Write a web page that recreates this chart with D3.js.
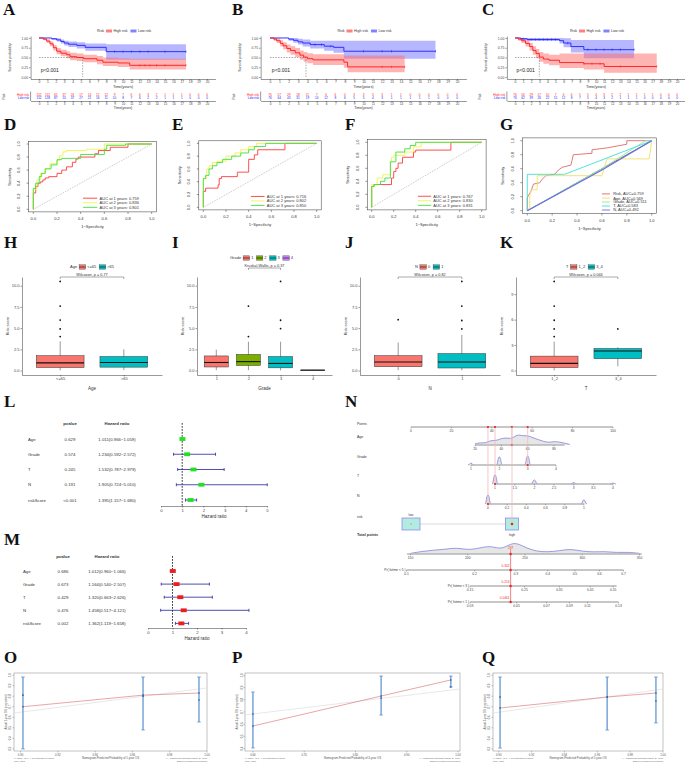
<!DOCTYPE html>
<html>
<head>
<meta charset="utf-8">
<script src="https://cdn.jsdelivr.net/npm/d3@7"></script>
<style>
  body { margin: 0; background: #fff; }
  svg { display: block; }
  text { font-family: "Liberation Sans", "DejaVu Sans", Arial, sans-serif; }
</style>
</head>
<body>
<script>
// ---------- data: survival curves [time, surv, lower, upper] ----------
const kmYears = [0,1,2,3,4,5,6,7,8,9,10,11,12,13,14,15,16,17,18,19,20];

const kmA_high = [[0,1,1,1],[0.5,0.97,0.94,1],[0.9,0.92,0.87,0.97],[1.3,0.85,0.79,0.91],[1.7,0.75,0.68,0.82],[2.1,0.66,0.58,0.74],[2.6,0.61,0.53,0.70],[3.3,0.57,0.48,0.66],[3.7,0.52,0.43,0.62],[4.5,0.50,0.41,0.60],[5.3,0.47,0.38,0.57],[6.9,0.43,0.33,0.54],[7.6,0.38,0.28,0.50],[9.4,0.36,0.26,0.48],[10.8,0.30,0.19,0.47],[17.5,0.30,0.19,0.47]];
const kmA_low = [[0,1,1,1],[1.5,0.98,0.95,1],[2.1,0.95,0.91,0.99],[2.6,0.91,0.86,0.96],[3.0,0.87,0.81,0.93],[3.5,0.84,0.77,0.91],[4.5,0.81,0.73,0.89],[5.5,0.76,0.67,0.86],[8.0,0.65,0.44,0.84],[17.5,0.65,0.44,0.84]];
const kmB_high = [[0,1,1,1],[0.4,0.97,0.93,1],[0.7,0.93,0.87,0.99],[1.1,0.86,0.78,0.94],[1.4,0.80,0.71,0.89],[1.8,0.73,0.63,0.83],[2.2,0.68,0.57,0.79],[2.7,0.62,0.51,0.74],[3.2,0.56,0.44,0.68],[3.6,0.51,0.39,0.64],[4.0,0.47,0.35,0.61],[4.6,0.44,0.31,0.58],[7.9,0.38,0.24,0.55],[8.3,0.26,0.12,0.55],[14.4,0.26,0.12,0.55]];
const kmB_low = [[0,1,1,1],[2.0,0.97,0.93,1],[2.5,0.94,0.88,1],[3.0,0.90,0.83,0.98],[3.5,0.87,0.78,0.96],[4.3,0.83,0.73,0.93],[5.8,0.79,0.67,0.93],[6.8,0.76,0.62,0.93],[7.9,0.66,0.47,0.93],[17.7,0.66,0.47,0.93]];
const kmC_high = [[0,1,1,1],[0.4,0.97,0.93,1],[0.8,0.93,0.87,0.99],[1.3,0.86,0.78,0.94],[1.8,0.78,0.68,0.87],[2.2,0.68,0.57,0.79],[2.6,0.60,0.48,0.72],[3.0,0.51,0.39,0.64],[3.5,0.46,0.34,0.60],[4.2,0.43,0.30,0.57],[5.5,0.37,0.23,0.60],[8.5,0.34,0.19,0.60],[11.0,0.27,0.11,0.60],[17.5,0.27,0.11,0.60]];
const kmC_low = [[0,1,1,1],[0.7,0.98,0.95,1],[1.5,0.96,0.92,1],[5.5,0.93,0.86,1],[6.0,0.87,0.76,0.99],[6.9,0.78,0.63,0.95],[8.5,0.70,0.48,0.95],[14.7,0.70,0.48,0.95]];

// censored times
const kmA_highCens = [12, 12.6, 13.2, 14, 15, 17.5];
const kmA_lowCens = [9, 10, 11, 12, 13, 15, 17.5];
const kmB_highCens = [12, 13, 14.4];
const kmB_lowCens = [4.8, 5.5, 6.5, 10, 12, 13, 17.7];
const kmC_highCens = [8.5, 9.5, 10.5, 13, 17.5];
const kmC_lowCens = [1, 2, 2.5, 3, 3.5, 4, 4.5, 5, 6.5, 9, 10, 11, 12, 13, 14.7];

// numbers at risk
const riskA_high = [152,112,65,37,26,17,14,12,12,9,7,6,6,3,2,1,1,1,0,0,0];
const riskA_low = [152,128,87,55,37,27,21,16,11,10,8,7,6,2,2,1,1,1,0,0,0];
const riskB_high = [76,57,29,18,11,7,6,6,4,3,3,3,3,1,1,0,0,0,0,0,0];
const riskB_low = [76,64,43,31,19,14,12,8,6,5,5,4,3,1,1,1,1,1,0,0,0];
const riskC_high = [76,56,29,17,10,7,6,6,5,5,4,3,2,2,1,1,1,1,0,0,0];
const riskC_low = [76,62,39,26,22,15,12,8,7,5,4,3,2,1,1,1,0,0,0,0,0];

// ---------- data: ROC curves [1-specificity, sensitivity] ----------
const rocD_1 = [[0,0],[0,0.2],[0.02,0.25],[0.04,0.35],[0.06,0.4],[0.08,0.42],[0.1,0.45],[0.13,0.48],[0.2,0.5],[0.24,0.55],[0.28,0.6],[0.33,0.65],[0.36,0.72],[0.38,0.77],[0.4,0.8],[0.52,0.8],[0.55,0.85],[0.65,0.9],[0.8,0.95],[0.8,1],[1,1]];
const rocD_2 = [[0,0],[0,0.15],[0.03,0.3],[0.06,0.45],[0.1,0.55],[0.14,0.62],[0.2,0.7],[0.22,0.75],[0.25,0.82],[0.28,0.88],[0.45,0.9],[0.6,0.92],[0.78,1],[1,1]];
const rocD_3 = [[0,0],[0,0.2],[0.02,0.32],[0.05,0.4],[0.07,0.5],[0.1,0.55],[0.15,0.62],[0.2,0.68],[0.24,0.76],[0.4,0.78],[0.6,0.84],[0.62,0.92],[0.78,0.98],[1,1]];
const rocE_1 = [[0,0],[0,0.15],[0.02,0.25],[0.13,0.3],[0.14,0.35],[0.16,0.45],[0.3,0.48],[0.3,0.53],[0.4,0.55],[0.4,0.72],[0.45,0.75],[0.48,0.82],[0.52,0.9],[0.72,0.9],[0.72,1],[1,1]];
const rocE_2 = [[0,0],[0,0.3],[0.03,0.45],[0.05,0.6],[0.08,0.65],[0.12,0.7],[0.2,0.72],[0.28,0.8],[0.33,0.85],[0.4,0.9],[0.47,0.95],[0.68,1],[1,1]];
const rocE_3 = [[0,0],[0,0.4],[0.02,0.45],[0.05,0.5],[0.08,0.6],[0.12,0.65],[0.17,0.7],[0.25,0.75],[0.33,0.8],[0.4,0.85],[0.45,0.9],[0.55,0.95],[0.58,1],[1,1]];
const rocF_1 = [[0,0],[0,0.2],[0.02,0.32],[0.18,0.35],[0.2,0.45],[0.22,0.55],[0.24,0.6],[0.28,0.68],[0.38,0.77],[0.4,0.85],[0.72,0.88],[0.72,1],[1,1]];
const rocF_2 = [[0,0],[0,0.25],[0.05,0.35],[0.1,0.45],[0.17,0.5],[0.18,0.7],[0.2,0.77],[0.3,0.8],[0.38,0.85],[0.45,0.93],[0.62,1],[1,1]];
const rocF_3 = [[0,0],[0,0.2],[0.02,0.32],[0.08,0.35],[0.12,0.4],[0.17,0.45],[0.17,0.65],[0.22,0.7],[0.3,0.85],[0.35,0.9],[0.4,0.95],[0.6,1],[1,1]];
const rocAucD = ["0.759","0.836","0.801"];
const rocAucE = ["0.716","0.802","0.850"];
const rocAucF = ["0.767","0.830","0.831"];

const rocG_risk = [[0,0],[0,0.18],[0.01,0.22],[0.03,0.28],[0.05,0.38],[0.1,0.4],[0.12,0.45],[0.15,0.5],[0.22,0.52],[0.25,0.58],[0.28,0.62],[0.35,0.65],[0.36,0.72],[0.37,0.8],[0.52,0.82],[0.52,0.87],[0.65,0.9],[0.8,0.95],[0.8,1],[1,1]];
const rocG_age = [[0,0],[0.02,0.05],[0.02,0.2],[0.03,0.3],[0.08,0.3],[0.08,0.5],[0.6,0.5],[0.64,0.74],[0.98,0.74],[1,1]];
const rocG_grade = [[0,0],[0.6,0.6],[0.95,1],[1,1]];
const rocG_t = [[0,0],[0,0.52],[0.3,0.52],[1,1]];
const rocG_n = [[0,0],[0.6,0.58],[1,1]];
const rocGNames = ["Risk","Age","Grade","T","N"];
const rocGAuc = ["0.759","0.569","0.511","0.583","0.492"];

// ---------- data: box plots [lower whisker, Q1, median, Q3, upper whisker] ----------
const boxH_cats = ["<=65", ">65"];
const boxH_stats = [[0.02,0.35,0.9,1.75,3.45],[0.05,0.4,0.95,1.65,2.5]];
const boxH_out = [[4.0,4.9,5.95,7.6,10.5],[]];
const boxI_cats = ["1","2","3","4"];
const boxI_stats = [[0.05,0.42,0.95,1.72,2.46],[0.05,0.6,1.05,1.9,3.4],[0.02,0.32,0.84,1.65,3.4],[0.05,0.05,0.05,0.05,0.05]];
const boxI_out = [[],[4.0,7.6],[4.95,5.93,10.5],[]];
const boxJ_cats = ["0","1"];
const boxJ_stats = [[0.05,0.45,1.0,1.75,3.3],[0.02,0.3,1.0,2.0,4.2]];
const boxJ_out = [[6.0],[4.9,5.9,7.6,10.5]];
const boxK_cats = ["1_2","3_4"];
const boxK_stats = [[0.02,0.35,0.85,1.7,3.4],[0.5,1.4,2.3,2.6,2.75]];
const boxK_out = [[4.0,4.9,5.93,7.6,10.5],[4.9]];

// ---------- data: Cox regression ----------
const coxVars = ["Age","Grade","T","N","riskScore"];
const uniP = ["0.629","0.574","0.245","0.191","<0.001"];
const uniHR = [1.011,1.234,1.532,1.905,1.395];
const uniLo = [0.966,0.592,0.787,0.724,1.157];
const uniHi = [1.059,2.572,2.979,5.010,1.680];
const multiP = ["0.686","0.673","0.429","0.476","0.002"];
const multiHR = [1.012,1.164,1.320,1.458,1.362];
const multiLo = [0.960,0.540,0.663,0.517,1.119];
const multiHi = [1.066,2.507,2.626,4.121,1.658];

// ---------- data: nomogram ----------
const nomoAgeTicks = [20,40,60,80];
const nomoAgeGrid = [20,24,28,32,36,40,44,48,52,56,60,64,68,72,76,80,84,88,92];
const nomoAgeDensity = [0.1,0.2,0.15,0.4,0.35,0.55,0.6,0.5,0.9,0.75,0.8,0.6,0.45,0.3,0.2,0.3,0.25,0.15,0.05];
const nomoGradeTicks = [1,2,3,4];
const nomoGradePeaks = [[1,0.2],[2,0.9],[3,1.0]];
const nomoTTicks = [1,1.5,2,2.5,3,3.5,4];
const nomoTPeaks = [[1,1.0],[2,0.45],[3,0.15],[4,0.1]];
const nomoNTicks = [0,0.2,0.4,0.6,0.8,1];
const nomoNPeaks = [[0,1.0],[1,0.45]];
const nomoTotalTicks = [150,200,250,300,350];
const nomoTotalGrid = [150,160,170,180,190,200,210,220,230,240,250,260,270,280,290,300,310,320,330,340,350];
const nomoTotalDensity = [0.05,0.2,0.3,0.35,0.5,0.3,0.45,0.65,0.3,1.0,0.5,0.2,0.15,0.25,0.4,0.2,0.15,0.2,0.1,0.15,0.05];
const nomoPr5 = [["0.1",146.5],["0.2",206],["0.3",242],["0.4",270],["0.5",293.6],["0.6",315],["0.7",336]];
const nomoPr3 = [["0.15",202],["0.25",249.6],["0.35",280],["0.45",307],["0.55",327]];
const nomoPr1 = [["0.03",202],["0.05",242.6],["0.07",268.8],["0.09",288.9],["0.11",304.6],["0.13",331.7]];
const nomoPrSel = ["0.302","0.214","0.0461"];
const nomoSel = {age: 48, grade: 3, t: 1, n: 0};

// ---------- data: calibration [predicted, observed, corrected, lower, upper] ----------
const calO = [[0.9013,0.70,0.81,0.30,0.982],[0.9657,0.81,0.80,0.48,0.982],[0.9957,0.83,0.764,0.555,0.982]];
const calO_fit = [[0.8965,0.64],[1.0,0.878]];
const calP = [[0.6,0.585,0.684,0.405,0.864],[0.85,0.831,0.815,0.675,0.995],[0.986,0.963,0.905,0.905,0.995]];
const calP_fit = [[0.5845,0.676],[1.0039,0.889]];
const calQ = [[0.9008,0.688,0.792,0.308,0.982],[0.966,0.792,0.792,0.479,0.982],[0.9957,0.83,0.754,0.546,0.982]];
const calQ_fit = [[0.8965,0.64],[1.0,0.868]];
const calO_xTicks = [0.90,0.92,0.94,0.96,0.98,1.00];
const calO_yTicks = [0.3,0.4,0.5,0.6,0.7,0.8,0.9,1.0];
const calP_xTicks = [0.6,0.7,0.8,0.9,1.0];
const calP_yTicks = [0.4,0.5,0.6,0.7,0.8,0.9,1.0];

// ---------- drawing ----------
const FONT = "Liberation Sans, DejaVu Sans, Arial, sans-serif";
const svg = d3.select("body").append("svg")
	.attr("width", 685).attr("height", 763)
	.attr("font-family", FONT);
svg.append("rect").attr("width", 685).attr("height", 763).attr("fill", "#fff");

function txt(g, x, y, s, opt = {}) {
	const t = g.append("text").attr("x", x).attr("y", y).text(s)
		.attr("font-family", FONT)
		.attr("font-size", opt.size || 4)
		.attr("fill", opt.color || "#333")
		.attr("text-anchor", opt.anchor || "start");
	if (opt.rotate) t.attr("transform", `rotate(${opt.rotate},${x},${y})`);
	if (opt.weight) t.attr("font-weight", opt.weight);
	return t;
}

function styleAxis(sel, size) {
	sel.attr("font-size", size).attr("font-family", FONT);
	sel.selectAll("text").attr("fill", "#444");
	sel.selectAll("line,path").attr("stroke", "#333").attr("stroke-width", 0.5);
}

function letter(x, y, s) {
	svg.append("text").attr("x", x).attr("y", y).text(s)
		.style("font-family", "'Liberation Serif', 'Times New Roman', serif")
		.attr("font-weight", "bold").attr("font-size", 17).attr("fill", "#111");
}

// Kaplan-Meier with risk table
function drawKM(c) {
	const g = svg.append("g");
	const u = (c.x20 - c.x0) / 20;
	const x = d3.scaleLinear().domain([-1, 21]).range([c.x0 - u, c.x20 + u]);
	const y = d3.scaleLinear().domain([-0.05, 1.05]).range([79, 36]);
	const left = x(-1), right = x(21);

	const area = d3.area().curve(d3.curveStepAfter)
		.x(d => x(d[0])).y0(d => y(d[2])).y1(d => y(d[3]));
	const line = d3.line().curve(d3.curveStepAfter)
		.x(d => x(d[0])).y(d => y(d[1]));
	const groups = [
		{ d: c.low, cens: c.lowCens, col: "#2020ff", fill: "#7070ff", lab: "Low risk", risk: c.riskLow },
		{ d: c.high, cens: c.highCens, col: "#ff1a1a", fill: "#ff6a6a", lab: "High risk", risk: c.riskHigh }
	];
	groups.forEach(s => g.append("path").attr("d", area(s.d))
		.attr("fill", s.fill).attr("fill-opacity", 0.5));

	// median survival guide
	g.append("path")
		.attr("d", `M${x(0)},${y(0.5)}H${x(c.median)}V${y(0)}`)
		.attr("fill", "none").attr("stroke", "#555").attr("stroke-width", 0.5)
		.attr("stroke-dasharray", "1.5,1.2");

	groups.forEach(s => {
		g.append("path").attr("d", line(s.d)).attr("fill", "none")
			.attr("stroke", s.col).attr("stroke-width", 0.9);
		// censor marks
		s.cens.forEach(t => {
			let v = s.d[0][1];
			s.d.forEach(k => { if (k[0] <= t) v = k[1]; });
			g.append("line").attr("x1", x(t)).attr("x2", x(t))
				.attr("y1", y(v) - 1.2).attr("y2", y(v) + 1.2)
				.attr("stroke", s.col).attr("stroke-width", 0.5);
		});
	});

	const ax = g.append("g").attr("transform", `translate(0,${y(-0.05)})`)
		.call(d3.axisBottom(x).tickValues(kmYears).tickSize(1.2).tickSizeOuter(0).tickPadding(0.6));
	styleAxis(ax, 3.3);
	const ay = g.append("g").attr("transform", `translate(${left},0)`)
		.call(d3.axisLeft(y).tickValues([0, 0.25, 0.5, 0.75, 1]).tickFormat(d3.format(".2f"))
			.tickSize(1.5).tickSizeOuter(0).tickPadding(1));
	styleAxis(ay, 3.4);
	txt(g, (left + right) / 2, 88, "Time(years)", { size: 3.8, anchor: "middle" });
	txt(g, left - 20, 57.5, "Survival probability", { size: 3.4, anchor: "middle", rotate: -90 });
	txt(g, x(0.2), 72, "p<0.001", { size: 5, color: "#222" });

	// legend
	let lx = (left + right) / 2 - 26;
	const ly = 31;
	const t0 = txt(g, lx, ly + 1.3, "Risk", { size: 3.6 });
	lx += t0.node().getComputedTextLength() + 2;
	[groups[1], groups[0]].forEach(s => {
		g.append("rect").attr("x", lx).attr("y", ly - 1.8).attr("width", 6).attr("height", 3.6)
			.attr("fill", s.fill).attr("fill-opacity", 0.5);
		g.append("line").attr("x1", lx).attr("x2", lx + 6).attr("y1", ly).attr("y2", ly)
			.attr("stroke", s.col).attr("stroke-width", 0.7);
		lx += 7.5;
		const t = txt(g, lx, ly + 1.3, s.lab, { size: 3.6 });
		lx += t.node().getComputedTextLength() + 3;
	});

	// risk table
	[groups[1], groups[0]].forEach((s, i) => {
		const ry = 95.5 + i * 3.8;
		txt(g, left - 1.5, ry, s.lab, { size: 3.1, color: s.col, anchor: "end" });
		s.risk.forEach((n, k) => txt(g, x(kmYears[k]), ry, n, { size: 3.1, color: s.col, anchor: "middle" }));
	});
	g.append("line").attr("x1", left).attr("x2", left).attr("y1", 91.5).attr("y2", 101)
		.attr("stroke", "#333").attr("stroke-width", 0.5);
	const rax = g.append("g").attr("transform", "translate(0,101)")
		.call(d3.axisBottom(x).tickValues(kmYears).tickSize(1.2).tickSizeOuter(0).tickPadding(0.5));
	styleAxis(rax, 3.1);
	txt(g, left - 26, 96.5, "Risk", { size: 3.1, anchor: "middle", rotate: -90 });
	txt(g, (left + right) / 2, 108.5, "Time(years)", { size: 3.5, anchor: "middle" });
}

// ROC panels (base R style)
function drawROC(c) {
	const g = svg.append("g");
	const x = d3.scaleLinear().domain([-0.04, 1.04]).range([c.left, c.right]);
	const y = d3.scaleLinear().domain([-0.04, 1.04]).range([c.bottom, c.top]);
	g.append("rect").attr("x", c.left).attr("y", c.top)
		.attr("width", c.right - c.left).attr("height", c.bottom - c.top)
		.attr("fill", "none").attr("stroke", "#333").attr("stroke-width", 0.5);
	const ticks = [0, 0.2, 0.4, 0.6, 0.8, 1.0];
	const f = d3.format(".1f");
	ticks.forEach(t => {
		g.append("line").attr("x1", x(t)).attr("x2", x(t)).attr("y1", c.bottom).attr("y2", c.bottom + 2)
			.attr("stroke", "#333").attr("stroke-width", 0.5);
		txt(g, x(t), c.bottom + 8.5, f(t), { size: 4, anchor: "middle" });
		g.append("line").attr("x1", c.left - 2).attr("x2", c.left).attr("y1", y(t)).attr("y2", y(t))
			.attr("stroke", "#333").attr("stroke-width", 0.5);
		txt(g, c.left - 8.5, y(t), f(t), { size: 4, anchor: "middle", rotate: -90 });
	});
	txt(g, (c.left + c.right) / 2, c.bottom + 16.5, "1\u2212Specificity", { size: 4, anchor: "middle" });
	txt(g, c.left - 18, (c.top + c.bottom) / 2, "Sensitivity", { size: 4, anchor: "middle", rotate: -90 });
	g.append("line").attr("x1", x(0)).attr("y1", y(0)).attr("x2", x(1)).attr("y2", y(1))
		.attr("stroke", c.diagCol || "#888").attr("stroke-width", c.diagW || 0.5)
		.attr("stroke-dasharray", c.diagDash || "1,1");
	c.curves.forEach(cv => {
		const ln = d3.line().curve(cv.step ? d3.curveStepBefore : d3.curveLinear)
			.x(d => x(d[0])).y(d => y(d[1]));
		g.append("path").attr("d", ln(cv.d)).attr("fill", "none")
			.attr("stroke", cv.col).attr("stroke-width", cv.w || 0.9);
	});
	// legend
	c.curves.forEach((cv, i) => {
		const ly = y(c.legY[i]);
		g.append("line").attr("x1", x(c.legX[0])).attr("x2", x(c.legX[1])).attr("y1", ly).attr("y2", ly)
			.attr("stroke", cv.col).attr("stroke-width", 0.9);
		txt(g, x(c.legX[2]), ly + 1.4, cv.label, { size: 4 });
	});
}

// ggplot style box plots
function drawBox(c) {
	const g = svg.append("g");
	const n = c.cats.length;
	const x = d3.scaleLinear().domain([0.4, n + 0.6]).range([c.left, c.right]);
	const y = d3.scaleLinear().domain([-0.525, 11.025]).range([375, 277]);
	const bw = (x(1) - x(0)) * 0.375;
	c.stats.forEach((s, i) => {
		const cx = x(i + 1);
		g.append("line").attr("x1", cx).attr("x2", cx).attr("y1", y(s[0])).attr("y2", y(s[4]))
			.attr("stroke", "#333").attr("stroke-width", 0.5);
		g.append("rect").attr("x", cx - bw).attr("y", y(s[3]))
			.attr("width", 2 * bw).attr("height", Math.max(0.3, y(s[1]) - y(s[3])))
			.attr("fill", c.cols[i]).attr("stroke", "#333").attr("stroke-width", 0.5);
		g.append("line").attr("x1", cx - bw).attr("x2", cx + bw).attr("y1", y(s[2])).attr("y2", y(s[2]))
			.attr("stroke", "#111").attr("stroke-width", 1.1);
		c.out[i].forEach(v => g.append("circle").attr("cx", cx).attr("cy", y(v)).attr("r", 0.9).attr("fill", "#111"));
	});
	const ay = g.append("g").attr("transform", `translate(${c.left},0)`)
		.call(d3.axisLeft(y).tickValues(c.yTicks).tickFormat(d3.format(c.yFmt))
			.tickSize(1.5).tickSizeOuter(0).tickPadding(1));
	styleAxis(ay, 4);
	const ax = g.append("g").attr("transform", "translate(0,375)")
		.call(d3.axisBottom(x).tickValues(d3.range(1, n + 1)).tickFormat((d, i) => c.cats[i])
			.tickSize(1.5).tickSizeOuter(0).tickPadding(1));
	styleAxis(ax, 4);
	txt(g, (c.left + c.right) / 2, 390, c.title, { size: 4.5, anchor: "middle" });
	txt(g, c.left - 13, 326, "Risk score", { size: 4, anchor: "middle", rotate: -90 });

	// legend
	let lx = c.legX;
	const ly = c.legY;
	const t0 = txt(g, lx, ly + 1.4, c.title, { size: 4 });
	lx += t0.node().getComputedTextLength() + 2;
	c.cats.forEach((cat, i) => {
		g.append("rect").attr("x", lx).attr("y", ly - 2.2).attr("width", 6.5).attr("height", 4.4)
			.attr("fill", c.cols[i]).attr("stroke", "#555").attr("stroke-width", 0.4);
		g.append("line").attr("x1", lx).attr("x2", lx + 6.5).attr("y1", ly).attr("y2", ly)
			.attr("stroke", "#111").attr("stroke-width", 0.6);
		lx += 8;
		const t = txt(g, lx, ly + 1.4, cat, { size: 4 });
		lx += t.node().getComputedTextLength() + 3;
	});

	// comparison bracket
	const b0 = x(c.bracket[0]), b1 = x(c.bracket[1]);
	g.append("path").attr("d", `M${b0},${c.brY + 2}V${c.brY}H${b1}V${c.brY + 2}`)
		.attr("fill", "none").attr("stroke", "#555").attr("stroke-width", 0.5);
	txt(g, (b0 + b1) / 2, c.brY - 1.5, c.stat, { size: 3.8, anchor: "middle" });
}

// forest plot with table
function drawForest(c) {
	const g = svg.append("g");
	const x = d3.scaleLinear().domain([0, c.max]).range([c.x0, c.x1]);
	txt(g, c.pX, c.headY, "pvalue", { size: 4.3, anchor: "middle", weight: "bold" });
	txt(g, c.hrX, c.headY, "Hazard ratio", { size: 4.3, anchor: "middle", weight: "bold" });
	g.append("line").attr("x1", x(1)).attr("x2", x(1)).attr("y1", c.headY - 2).attr("y2", c.axisY)
		.attr("stroke", "#111").attr("stroke-width", 0.8).attr("stroke-dasharray", "1.8,1.2");
	c.vars.forEach((v, i) => {
		const ry = c.rowY0 + i * c.rowStep;
		txt(g, c.labX, ry + 1.5, v, { size: 4.3 });
		txt(g, c.pX, ry + 1.5, c.p[i], { size: 4.3, anchor: "middle" });
		txt(g, c.hrX, ry + 1.5,
			`${c.hr[i].toFixed(3)}(${c.lo[i].toFixed(3)}\u2212${c.hi[i].toFixed(3)})`,
			{ size: 4.3, anchor: "middle" });
		g.append("line").attr("x1", x(c.lo[i])).attr("x2", x(c.hi[i])).attr("y1", ry).attr("y2", ry)
			.attr("stroke", "#23239a").attr("stroke-width", 0.8);
		[c.lo[i], c.hi[i]].forEach(e => g.append("line")
			.attr("x1", x(e)).attr("x2", x(e)).attr("y1", ry - 1.5).attr("y2", ry + 1.5)
			.attr("stroke", "#23239a").attr("stroke-width", 0.8));
		g.append("rect").attr("x", x(c.hr[i]) - 3).attr("y", ry - 1.9).attr("width", 6).attr("height", 3.8)
			.attr("fill", c.col);
	});
	const ax = g.append("g").attr("transform", `translate(0,${c.axisY})`)
		.call(d3.axisBottom(x).ticks(c.max).tickSize(1.5).tickSizeOuter(0).tickPadding(1));
	styleAxis(ax, 4.3);
	txt(g, (c.x0 + c.x1) / 2, c.axisY + 12, "Hazard ratio", { size: 4.6, anchor: "middle" });
}

// nomogram
function drawNomogram() {
	const g = svg.append("g");
	const px = d3.scaleLinear().domain([0, 100]).range([411, 613]);
	const labX = 357;
	const axisCol = "#b5b5b5";

	function row(y, x0, x1, ticks, fs) {
		g.append("line").attr("x1", x0).attr("x2", x1).attr("y1", y).attr("y2", y)
			.attr("stroke", axisCol).attr("stroke-width", 1.4);
		ticks.forEach(t => {
			g.append("line").attr("x1", t[0]).attr("x2", t[0]).attr("y1", y).attr("y2", y + 1.5)
				.attr("stroke", "#555").attr("stroke-width", 0.4);
			txt(g, t[0], y + 5, t[1], { size: fs || 3.3, anchor: "middle", color: "#444" });
		});
	}
	function density(y, xs, hs, h) {
		const pts = xs.map((v, i) => [v, y - hs[i] * h]);
		const ar = d3.area().curve(d3.curveBasis).x(d => d[0]).y0(y).y1(d => d[1]);
		const ln = d3.line().curve(d3.curveBasis).x(d => d[0]).y(d => d[1]);
		g.append("path").attr("d", ar(pts)).attr("fill", "#e6e6e6");
		g.append("path").attr("d", ln(pts)).attr("fill", "none").attr("stroke", "#7474dc").attr("stroke-width", 0.7);
	}
	function peaks(y, xs, hs, h) {
		xs.forEach((x, i) => {
			const top = y - hs[i] * h;
			g.append("path")
				.attr("d", `M${x - 3},${y}C${x - 1.6},${y} ${x - 1.6},${top} ${x},${top}C${x + 1.6},${top} ${x + 1.6},${y} ${x + 3},${y}`)
				.attr("fill", "#e6e6e6").attr("stroke", "#7474dc").attr("stroke-width", 0.7);
		});
	}

	// points scale
	txt(g, labX, 425, "Points", { size: 3.5 });
	row(427, px(0), px(100), [0, 20, 40, 60, 80, 100].map(v => [px(v), v]));

	const vars = [
		{ name: "Age", y: 445, pts: d3.scaleLinear().domain([20, 80]).range([31.7, 70.8]), ext: [20, 88],
			ticks: nomoAgeTicks, sel: nomoSel.age },
		{ name: "Grade", y: 465, pts: d3.scaleLinear().domain([1, 4]).range([29.7, 71.8]), ext: [1, 4],
			ticks: nomoGradeTicks, sel: nomoSel.grade, peaks: nomoGradePeaks },
		{ name: "T", y: 484, pts: d3.scaleLinear().domain([1, 4]).range([41.6, 100]), ext: [1, 4],
			ticks: nomoTTicks, sel: nomoSel.t, peaks: nomoTPeaks },
		{ name: "N", y: 504, pts: d3.scaleLinear().domain([0, 1]).range([38.1, 85.6]), ext: [0, 1],
			ticks: nomoNTicks, sel: nomoSel.n, peaks: nomoNPeaks }
	];
	let total = 0;
	vars.forEach(v => {
		const vx = d => px(v.pts(d));
		txt(g, labX, v.y - 7, v.name, { size: 3.5 });
		if (v.peaks) {
			peaks(v.y, v.peaks.map(p => vx(p[0])), v.peaks.map(p => p[1]), 9);
		} else {
			density(v.y, nomoAgeGrid.map(vx), nomoAgeDensity, 12);
		}
		row(v.y, vx(v.ext[0]), vx(v.ext[1]), v.ticks.map(t => [vx(t), t]));
		const sp = v.pts(v.sel);
		total += sp;
		g.append("line").attr("x1", px(sp)).attr("x2", px(sp)).attr("y1", 427).attr("y2", v.y)
			.attr("stroke", "#f3b9b9").attr("stroke-width", 0.8);
		g.append("circle").attr("cx", px(sp)).attr("cy", 427).attr("r", 1.1).attr("fill", "#ee2222");
		g.append("circle").attr("cx", px(sp)).attr("cy", v.y).attr("r", 1.1).attr("fill", "#ee2222");
	});

	// risk group
	const riskPts = [0, 50];
	txt(g, labX, 518, "risk", { size: 3.5 });
	g.append("line").attr("x1", px(riskPts[0])).attr("x2", px(riskPts[1])).attr("y1", 524).attr("y2", 524)
		.attr("stroke", "#cfcfcf").attr("stroke-width", 0.8);
	[[riskPts[0], 9, "low", 515.5], [riskPts[1], 6.5, "high", 535.5]].forEach(r => {
		g.append("rect").attr("x", px(r[0]) - r[1]).attr("y", 518).attr("width", 2 * r[1]).attr("height", 12)
			.attr("fill", "#b4ebe1").attr("stroke", "#8c8cf0").attr("stroke-width", 0.8);
		txt(g, px(r[0]), r[3], r[2], { size: 3.2, anchor: "middle" });
	});
	g.append("circle").attr("cx", px(riskPts[0])).attr("cy", 524).attr("r", 0.6).attr("fill", "#777");
	total += riskPts[1];
	g.append("line").attr("x1", px(riskPts[1])).attr("x2", px(riskPts[1])).attr("y1", 427).attr("y2", 524)
		.attr("stroke", "#f3b9b9").attr("stroke-width", 0.8);
	g.append("circle").attr("cx", px(riskPts[1])).attr("cy", 524).attr("r", 1.3).attr("fill", "#ee2222");

	// total points and probabilities
	const tx = d3.scaleLinear().domain([150, 350]).range([410.5, 639.5]);
	txt(g, labX, 536, "Total points", { size: 3.8, weight: "bold" });
	density(554, nomoTotalGrid.map(tx), nomoTotalDensity, 13);
	row(554, tx(147), tx(352), nomoTotalTicks.map(t => [tx(t), t]));
	const prRows = [
		{ lab: "Pr( futime < 5 )", y: 570, ticks: nomoPr5, ext: [146.5, 336] },
		{ lab: "Pr( futime < 3 )", y: 586, ticks: nomoPr3, ext: [202, 330] },
		{ lab: "Pr( futime < 1 )", y: 602, ticks: nomoPr1, ext: [202, 331.7] }
	];
	prRows.forEach(r => {
		txt(g, tx(r.ext[0]) - 1, r.y + 1, r.lab, { size: 3.2, anchor: "end" });
		row(r.y, tx(r.ext[0]), tx(r.ext[1]), r.ticks.map(t => [tx(t[1]), t[0]]));
	});
	g.append("line").attr("x1", tx(total)).attr("x2", tx(total)).attr("y1", 549).attr("y2", 603)
		.attr("stroke", "#f09090").attr("stroke-width", 1.1);
	g.append("circle").attr("cx", tx(total)).attr("cy", 554).attr("r", 1.2).attr("fill", "#ee2222");
	txt(g, tx(total), 549, Math.round(total), { size: 3.2, anchor: "middle", color: "#e32" });
	prRows.forEach((r, i) => {
		g.append("circle").attr("cx", tx(total)).attr("cy", r.y).attr("r", 1.2).attr("fill", "#ee2222");
		txt(g, tx(total) - 1, r.y - 3, nomoPrSel[i], { size: 3.2, anchor: "end", color: "#e32" });
	});
}

// calibration panels
function drawCalib(c) {
	const g = svg.append("g");
	const top = 673, bottom = 751;
	const x = d3.scaleLinear().domain(c.xDom).range([c.left, c.right]);
	const y = d3.scaleLinear().domain(c.yDom).range([bottom, top]);
	g.append("rect").attr("x", c.left).attr("y", top).attr("width", c.right - c.left).attr("height", bottom - top)
		.attr("fill", "none").attr("stroke", "#999").attr("stroke-width", 0.6);
	c.xTicks.forEach(t => {
		g.append("line").attr("x1", x(t)).attr("x2", x(t)).attr("y1", bottom).attr("y2", bottom + 1.5)
			.attr("stroke", "#666").attr("stroke-width", 0.4);
		txt(g, x(t), bottom + 4.5, d3.format(".2f")(t), { size: 2.8, anchor: "middle", color: "#555" });
	});
	c.yTicks.forEach(t => {
		g.append("line").attr("x1", c.left - 1.5).attr("x2", c.left).attr("y1", y(t)).attr("y2", y(t))
			.attr("stroke", "#666").attr("stroke-width", 0.4);
		txt(g, c.left - 2.5, y(t), d3.format(".1f")(t), { size: 2.8, anchor: "middle", color: "#555", rotate: -90 });
	});
	txt(g, c.left - 7.5, (top + bottom) / 2, `Actual ${c.yr}-year OS (proportion)`, { size: 2.7, anchor: "middle", rotate: -90, color: "#555" });
	txt(g, (c.left + c.right) / 2, bottom + 8, `Nomogram-Predicted Probability of ${c.yr}-year OS`, { size: 2.8, anchor: "middle", color: "#555" });
	txt(g, c.left, bottom + 8, "n=152 d=48 p=4, 50 subjects per group", { size: 2.3, color: "#666" });
	txt(g, c.left, bottom + 10.8, "Gray: ideal", { size: 2.3, color: "#666" });
	txt(g, c.right, bottom + 8, "X - resampling optimism added, B=1000", { size: 2.3, anchor: "end", color: "#666" });
	txt(g, c.right, bottom + 10.8, "Based on observed-predicted", { size: 2.3, anchor: "end", color: "#666" });

	const ln = d3.line().x(d => x(d[0])).y(d => y(d[1]));
	g.append("path").attr("d", ln(c.fit)).attr("fill", "none").attr("stroke", "#d8d8d8").attr("stroke-width", 0.6);
	g.append("path").attr("d", ln(c.pts.map(p => [p[0], p[1]]))).attr("fill", "none")
		.attr("stroke", "#e08080").attr("stroke-width", 0.7);
	c.pts.forEach(p => {
		const cx = x(p[0]);
		g.append("line").attr("x1", cx).attr("x2", cx).attr("y1", y(p[3])).attr("y2", y(p[4]))
			.attr("stroke", "#6f9fd6").attr("stroke-width", 1.4);
		[p[3], p[4]].forEach(e => g.append("line").attr("x1", cx - 1.8).attr("x2", cx + 1.8)
			.attr("y1", y(e)).attr("y2", y(e)).attr("stroke", "#4f86c8").attr("stroke-width", 0.7));
		g.append("circle").attr("cx", cx).attr("cy", y(p[1])).attr("r", 0.8).attr("fill", "#2b4f95");
		g.append("circle").attr("cx", cx).attr("cy", y(p[2])).attr("r", 0.8).attr("fill", "#2b4f95");
	});
}

// ---------- panels ----------
letter(3, 15, "A"); letter(232, 15, "B"); letter(482, 15, "C");
drawKM({ x0: 39, x20: 207, high: kmA_high, low: kmA_low, highCens: kmA_highCens, lowCens: kmA_lowCens,
	riskHigh: riskA_high, riskLow: riskA_low, median: 5.2 });
drawKM({ x0: 270, x20: 457, high: kmB_high, low: kmB_low, highCens: kmB_highCens, lowCens: kmB_lowCens,
	riskHigh: riskB_high, riskLow: riskB_low, median: 3.85 });
drawKM({ x0: 515, x20: 677, high: kmC_high, low: kmC_low, highCens: kmC_highCens, lowCens: kmC_lowCens,
	riskHigh: riskC_high, riskLow: riskC_low, median: 3.0 });

letter(4, 130, "D"); letter(172, 130, "E"); letter(345, 130, "F"); letter(500, 130, "G");
const rocCols = ["#ff3b3b", "#f2f24a", "#3fe03f"];
const rocLegX = [0.42, 0.54, 0.56], rocLegY = [0.17, 0.10, 0.03];
[[28.6, 156.4, 141.4, 211.9, [rocD_1, rocD_2, rocD_3], rocAucD],
 [198.8, 321.2, 140.8, 209.9, [rocE_1, rocE_2, rocE_3], rocAucE],
 [367.3, 486.1, 139.7, 209.9, [rocF_1, rocF_2, rocF_3], rocAucF]].forEach(p => {
	drawROC({ left: p[0], right: p[1], top: p[2], bottom: p[3], legX: rocLegX, legY: rocLegY,
		curves: p[4].map((d, i) => ({ d: d, col: rocCols[i], step: true, label: `AUC at ${i + 1} years: ${p[5][i]}` })) });
});
const rocGCols = ["#e06a6a", "#eee06a", "#8fec8f", "#3fdede", "#6c6cec"];
drawROC({ left: 522.3, right: 656.7, top: 137.9, bottom: 213.5,
	legX: [0.60, 0.665, 0.69], legY: [0.24, 0.18, 0.125, 0.067, 0.01],
	diagCol: "#222", diagW: 0.6, diagDash: "none",
	curves: [rocG_risk, rocG_age, rocG_grade, rocG_t, rocG_n].map((d, i) => ({
		d: d, col: rocGCols[i], step: false, w: i === 4 ? 1.2 : 0.9,
		label: `${rocGNames[i]}, AUC=${rocGAuc[i]}` })) });

letter(4, 248, "H"); letter(172, 248, "I"); letter(345, 248, "J"); letter(500, 248, "K");
const gg2 = ["#F8766D", "#00BFC4"];
const yt = [0, 2.5, 5, 7.5, 10];
drawBox({ left: 22, right: 162, cats: boxH_cats, stats: boxH_stats, out: boxH_out, cols: gg2,
	title: "Age", yTicks: yt, yFmt: ".1f", legX: 70, legY: 267, bracket: [1, 2], brY: 277, stat: "Wilcoxon, p = 0.77" });
drawBox({ left: 197, right: 332, cats: boxI_cats, stats: boxI_stats, out: boxI_out,
	cols: ["#F8766D", "#7CAE00", "#00BFC4", "#C77CFF"],
	title: "Grade", yTicks: yt, yFmt: ".1f", legX: 230, legY: 258, bracket: [2, 3], brY: 268, stat: "Kruskal-Wallis, p = 0.37" });
drawBox({ left: 360, right: 500, cats: boxJ_cats, stats: boxJ_stats, out: boxJ_out, cols: gg2,
	title: "N", yTicks: yt, yFmt: ".1f", legX: 415, legY: 267, bracket: [1, 2], brY: 277, stat: "Wilcoxon, p = 0.82" });
drawBox({ left: 516, right: 656, cats: boxK_cats, stats: boxK_stats, out: boxK_out, cols: gg2,
	title: "T", yTicks: [0, 3, 6, 9], yFmt: "d", legX: 566, legY: 267, bracket: [1, 2], brY: 277, stat: "Wilcoxon, p = 0.044" });

letter(4, 407, "L"); letter(345, 407, "N"); letter(4, 545, "M");
drawForest({ vars: coxVars, p: uniP, hr: uniHR, lo: uniLo, hi: uniHi, col: "#22e022",
	labX: 28, pX: 70, hrX: 117, headY: 425, rowY0: 439, rowStep: 15.25,
	x0: 161, x1: 267, max: 5, axisY: 506 });
drawForest({ vars: coxVars, p: multiP, hr: multiHR, lo: multiLo, hi: multiHi, col: "#ee1c1c",
	labX: 23, pX: 63, hrX: 107, headY: 558, rowY0: 571, rowStep: 13.1,
	x0: 148, x1: 246, max: 4, axisY: 628 });
drawNomogram();

letter(4, 663, "O"); letter(232, 663, "P"); letter(482, 663, "Q");
drawCalib({ left: 14, right: 207, xDom: [0.8965, 1.0], yDom: [0.28, 1.02], xTicks: calO_xTicks, yTicks: calO_yTicks,
	pts: calO, fit: calO_fit, yr: 1 });
drawCalib({ left: 245, right: 460, xDom: [0.5845, 1.0039], yDom: [0.38, 1.02], xTicks: calP_xTicks, yTicks: calP_yTicks,
	pts: calP, fit: calP_fit, yr: 3 });
drawCalib({ left: 493, right: 663, xDom: [0.8965, 1.0], yDom: [0.28, 1.02], xTicks: calO_xTicks, yTicks: calO_yTicks,
	pts: calQ, fit: calQ_fit, yr: 5 });
</script>
</body>
</html>
